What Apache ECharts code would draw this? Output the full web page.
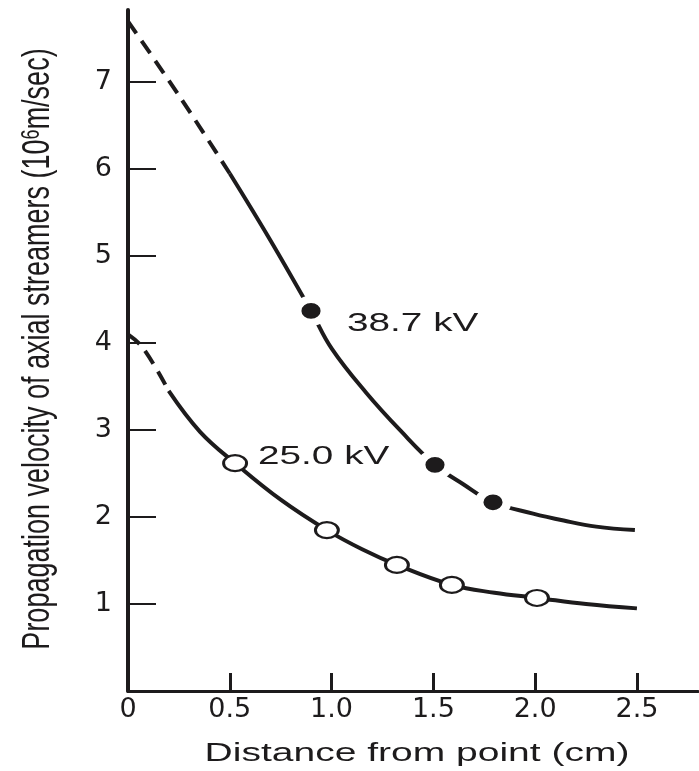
<!DOCTYPE html>
<html>
<head>
<meta charset="utf-8">
<title>Propagation velocity of axial streamers</title>
<script src="https://cdn.jsdelivr.net/npm/echarts@6/dist/echarts.min.js"></script>
<style>
  html, body { margin: 0; padding: 0; background: #fff; }
  #chart { width: 699px; height: 771px; }
</style>
</head>
<body>
<div id="chart"></div>
<script>
// 刻度
var xTicks = [0, 0.5, 1.0, 1.5, 2.0, 2.5];
var yTicks = [1, 2, 3, 4, 5, 6, 7];

// 38.7 kV：前段虚线，后段实线，实心点为测量值
var highDashed = [[0, 7.7], [0.255, 6.83], [0.5, 5.95]];
var highSolid = [[0.5, 5.95], [0.7, 5.18], [0.899, 4.37], [1.0, 3.94], [1.17, 3.43], [1.34, 2.99],
    [1.508, 2.6], [1.645, 2.38], [1.793, 2.17], [1.99, 2.04], [2.14, 1.96], [2.3, 1.89], [2.49, 1.85]];
var highDots = [[0.899, 4.37], [1.508, 2.6], [1.793, 2.17]];

// 25.0 kV：空心点为测量值
var lowDashed = [[0, 4.1], [0.075, 3.94], [0.2, 3.45]];
var lowSolid = [[0.2, 3.45], [0.354, 2.98], [0.526, 2.62], [0.75, 2.2], [0.977, 1.85], [1.15, 1.63],
    [1.321, 1.45], [1.591, 1.22], [1.8, 1.13], [2.009, 1.07], [2.25, 1.0], [2.5, 0.95]];
var lowDots = [[0.526, 2.62], [0.977, 1.85], [1.321, 1.45], [1.591, 1.22], [2.009, 1.07]];

var seriesNames = ['38.7 kV', '25.0 kV'];
var xTitle = 'Distance from point (cm)';

var ink = '#1d1b1c';
var font = '"Liberation Sans", Arial, Helvetica, sans-serif';
// 刻度数字比较宽，用 DejaVu Sans 更接近原图
var tickFont = '"DejaVu Sans", sans-serif';

function curve(name, data, dashed) {
    return {
        name: name,
        type: 'line',
        data: data,
        smooth: 0.4,
        showSymbol: false,
        z: 2,
        lineStyle: { color: ink, width: 4, type: dashed ? [15, 9] : 'solid', cap: 'butt' }
    };
}

var chart = echarts.init(document.getElementById('chart'));

var option = {
    animation: false,
    backgroundColor: '#fff',
    grid: { left: 128, right: 1, top: 10, bottom: 80, outerBoundsMode: 'none' },
    xAxis: {
        type: 'value',
        min: 0,
        max: 2.8,
        axisLine: { lineStyle: { color: ink, width: 3 } },
        axisTick: { inside: true, length: 18, lineStyle: { color: ink, width: 3 }, customValues: xTicks },
        axisLabel: {
            customValues: xTicks,
            margin: 5,
            color: ink,
            fontSize: 27,
            fontFamily: tickFont,
            formatter: function (v) { return v === 0 ? '0' : v.toFixed(1); }
        },
        splitLine: { show: false }
    },
    yAxis: {
        type: 'value',
        min: 0,
        max: 7.83,
        axisLine: { show: true, lineStyle: { color: ink, width: 4 } },
        axisTick: { show: true, inside: true, length: 28, lineStyle: { color: ink, width: 2 }, customValues: yTicks },
        axisLabel: { customValues: yTicks, margin: 16, color: ink, fontSize: 27, fontFamily: tickFont },
        splitLine: { show: false }
    },
    series: [
        curve(seriesNames[0], highDashed, true),
        curve(seriesNames[0], highSolid, false),
        curve(seriesNames[1], lowDashed, true),
        curve(seriesNames[1], lowSolid, false),
        {
            // 实心点，白边留出线的断口
            name: seriesNames[0],
            type: 'scatter',
            data: highDots,
            symbol: 'circle',
            symbolSize: [28, 23],
            z: 5,
            itemStyle: { color: ink, borderColor: '#fff', borderWidth: 8, opacity: 1 }
        },
        {
            name: seriesNames[1],
            type: 'scatter',
            data: lowDots,
            symbol: 'circle',
            symbolSize: [23, 16],
            z: 5,
            itemStyle: { color: '#fff', borderColor: ink, borderWidth: 2.5, opacity: 1 }
        }
    ],
    // 原图文字横向被拉宽，用 scaleX 还原
    graphic: [
        {
            type: 'text', x: 417, y: 754, scaleX: 1.5,
            style: { text: xTitle, fontSize: 26, fontFamily: font, fill: ink, align: 'center', verticalAlign: 'middle' }
        },
        {
            type: 'text', x: 38, y: 349, rotation: Math.PI / 2, scaleY: 1.45,
            style: {
                text: 'Propagation velocity of axial streamers (10{sup|6}m/sec)',
                fontSize: 27, fontFamily: font, fill: ink, align: 'center', verticalAlign: 'middle',
                rich: { sup: { fontSize: 18, fontFamily: font, fill: ink, verticalAlign: 'top', lineHeight: 10 } }
            }
        },
        {
            type: 'text', x: 347, y: 324, scaleX: 1.55,
            style: { text: seriesNames[0], fontSize: 25, fontFamily: font, fill: ink, align: 'left', verticalAlign: 'middle' }
        },
        {
            type: 'text', x: 258, y: 457, scaleX: 1.55,
            style: { text: seriesNames[1], fontSize: 25, fontFamily: font, fill: ink, align: 'left', verticalAlign: 'middle' }
        }
    ]
};

chart.setOption(option);
</script>
</body>
</html>
